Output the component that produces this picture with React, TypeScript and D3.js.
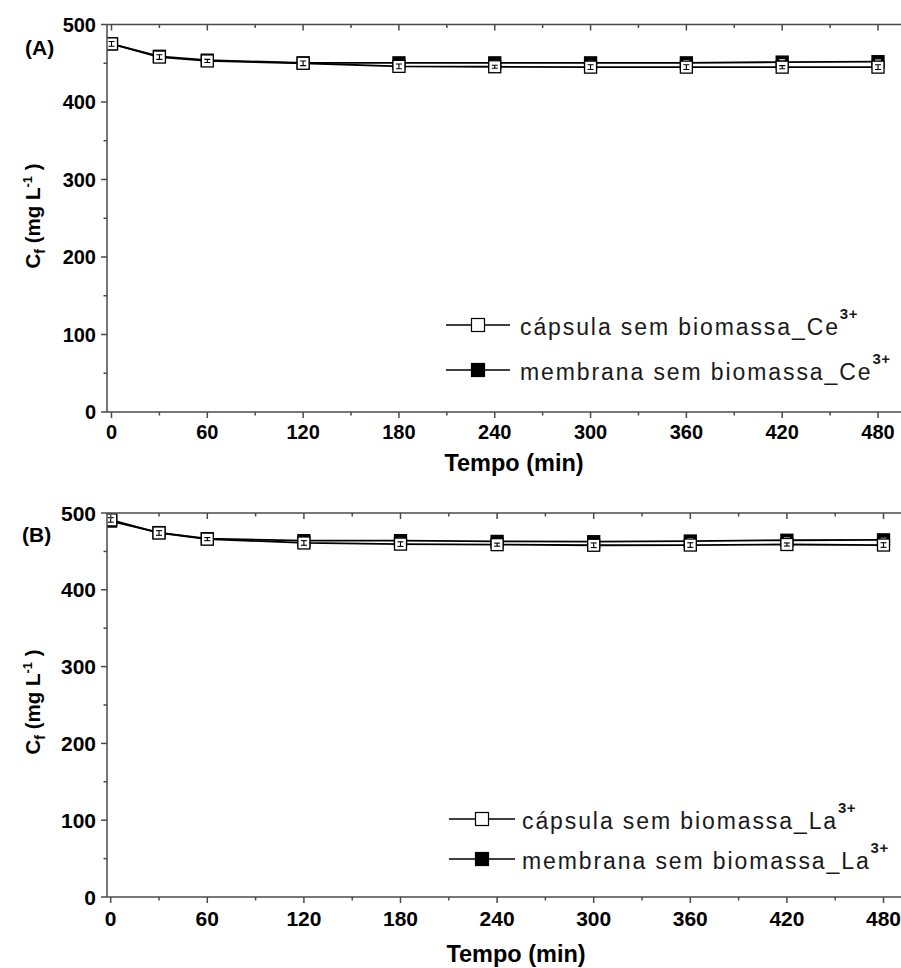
import React from "react";
import * as d3 from "d3";

const times = [0, 30, 60, 120, 180, 240, 300, 360, 420, 480];

const capsulaCe = [475, 458, 453, 450, 446, 445.5, 445, 445, 445, 445];
const capsulaCeErr = [3, 3, 2, 3, 3, 2, 3, 3, 2, 3];
const membranaCe = [475, 459, 454, 450.5, 450.5, 450.5, 450.5, 450.5, 451.5, 452];
const membranaCeErr = [3, 2, 3, 2, 3, 3, 2, 3, 3, 2];

const capsulaLa = [491, 474, 466, 461, 459.5, 458.8, 458, 458.3, 459, 458.3];
const capsulaLaErr = [3, 3, 2, 3, 3, 2, 3, 3, 2, 3];
const membranaLa = [489.5, 474.5, 466.5, 464, 464, 463, 462.6, 463.5, 464.5, 465];
const membranaLaErr = [3, 2, 3, 2, 3, 3, 2, 3, 3, 2];

const xMajorTicks = [0, 60, 120, 180, 240, 300, 360, 420, 480];
const xMinorTicks = [30, 90, 150, 210, 270, 330, 390, 450];
const yMajorTicks = [0, 100, 200, 300, 400, 500];
const yMinorTicks = [50, 150, 250, 350, 450];

const legendCe = ["cápsula sem biomassa_Ce", "membrana sem biomassa_Ce"];
const legendLa = ["cápsula sem biomassa_La", "membrana sem biomassa_La"];
const ionCharge = "3+";
const xTitle = "Tempo (min)";

const FONT = "'Liberation Sans', Arial, Helvetica, sans-serif";
const AXIS = "#4a4a4a";

type PanelProps = {
  id: string;
  label: string;
  xRange: [number, number];
  yRange: [number, number];
  left: number;
  right: number;
  tickFont: number;
  tickLabelBaseline: number;
  titleBaseline: number;
  titleX: number;
  yTitleCenter: number;
  labelPos: [number, number];
  caps: number[];
  capsErr: number[];
  mems: number[];
  memsErr: number[];
  legend: string[];
  legendLineY: [number, number];
  legendLineX: [number, number];
  legendTextX: number;
};

function Series({ x, y, values, errs, filled }: any) {
  const line = d3
    .line<number>()
    .x((_, i) => x(times[i]))
    .y((d) => y(d));
  const s = 12;
  return (
    <g>
      <path d={line(values) || ""} fill="none" stroke="#000" strokeWidth={1.8} />
      {values.map((v: number, i: number) => (
        <rect
          key={"m" + i}
          x={x(times[i]) - s / 2}
          y={y(v) - s / 2}
          width={s}
          height={s}
          fill={filled ? "#000" : "#fff"}
          stroke="#000"
          strokeWidth={1.3}
        />
      ))}
      {values.map((v: number, i: number) => {
        const cx = x(times[i]);
        const y1 = y(v - errs[i]);
        const y2 = y(v + errs[i]);
        return (
          <g key={"e" + i} stroke={filled ? "#fff" : "#000"} strokeWidth={1.1}>
            <line x1={cx} x2={cx} y1={y1} y2={y2} />
            <line x1={cx - 3} x2={cx + 3} y1={y1} y2={y1} />
            <line x1={cx - 3} x2={cx + 3} y1={y2} y2={y2} />
          </g>
        );
      })}
    </g>
  );
}

function Panel(p: PanelProps) {
  const x = d3.scaleLinear().domain([0, 480]).range(p.xRange);
  const y = d3.scaleLinear().domain([0, 500]).range(p.yRange);
  const top = y(500);
  const bottom = y(0);
  const clipId = "clip-" + p.id;
  return (
    <g fontFamily={FONT}>
      <defs>
        <clipPath id={clipId}>
          <rect x={p.left} y={top - 20} width={p.right - p.left} height={bottom - top + 20} />
        </clipPath>
      </defs>
      <g clipPath={`url(#${clipId})`}>
        <Series x={x} y={y} values={p.mems} errs={p.memsErr} filled={true} />
        <Series x={x} y={y} values={p.caps} errs={p.capsErr} filled={false} />
      </g>
      <g stroke={AXIS} strokeWidth={1.5} fill="none">
        <line x1={p.left} x2={p.right} y1={bottom} y2={bottom} />
        <line x1={p.left} x2={p.right} y1={top} y2={top} />
        <line x1={p.left} x2={p.left} y1={top} y2={bottom} />
        {xMajorTicks.map((t) => (
          <g key={"xM" + t}>
            <line x1={x(t)} x2={x(t)} y1={bottom} y2={bottom + 6} />
            <line x1={x(t)} x2={x(t)} y1={top} y2={top + 6} />
          </g>
        ))}
        {xMinorTicks.map((t) => (
          <g key={"xm" + t}>
            <line x1={x(t)} x2={x(t)} y1={bottom} y2={bottom + 3.5} />
            <line x1={x(t)} x2={x(t)} y1={top} y2={top + 3.5} />
          </g>
        ))}
        {yMajorTicks.map((t) => (
          <line key={"yM" + t} x1={p.left - 6} x2={p.left} y1={y(t)} y2={y(t)} />
        ))}
        {yMinorTicks.map((t) => (
          <line key={"ym" + t} x1={p.left - 3.5} x2={p.left} y1={y(t)} y2={y(t)} />
        ))}
      </g>
      <g fontWeight="bold" fontSize={p.tickFont} fill="#000">
        {xMajorTicks.map((t) => (
          <text key={"xl" + t} x={x(t)} y={p.tickLabelBaseline} textAnchor="middle">
            {t}
          </text>
        ))}
        {yMajorTicks.map((t) => (
          <text key={"yl" + t} x={p.left - 11} y={y(t)} dy="0.36em" textAnchor="end">
            {t}
          </text>
        ))}
      </g>
      <text x={p.titleX} y={p.titleBaseline} textAnchor="middle" fontWeight="bold" fontSize={23.5}>
        {xTitle}
      </text>
      <text
        transform={`translate(40, ${p.yTitleCenter}) rotate(-90)`}
        textAnchor="middle"
        fontWeight="bold"
        fontSize={20.5}
      >
        <tspan>C</tspan>
        <tspan fontSize={14} dy={5}>f</tspan>
        <tspan dy={-5}> (mg L</tspan>
        <tspan fontSize={13} dy={-8}>-1</tspan>
        <tspan dy={8}> )</tspan>
      </text>
      <text x={p.labelPos[0]} y={p.labelPos[1]} fontWeight="bold" fontSize={21}>
        {p.label}
      </text>
      {p.legend.map((name, i) => {
        const ly = p.legendLineY[i];
        const cx = (p.legendLineX[0] + p.legendLineX[1]) / 2;
        return (
          <g key={"lg" + i}>
            <line x1={p.legendLineX[0]} x2={p.legendLineX[1]} y1={ly} y2={ly} stroke="#000" strokeWidth={1.4} />
            <rect
              x={cx - 6.5}
              y={ly - 6.5}
              width={13}
              height={13}
              fill={i === 1 ? "#000" : "#fff"}
              stroke="#000"
              strokeWidth={1.2}
            />
            <text x={p.legendTextX} y={ly + 9.5} fontSize={23} letterSpacing={1.9} fill="#1a1a1a">
              <tspan>{name}</tspan>
              <tspan fontSize={15} fontWeight="bold" dy={-16} letterSpacing={0.5}>
                {ionCharge}
              </tspan>
            </text>
          </g>
        );
      })}
    </g>
  );
}

export default function App() {
  return (
    <div style={{ position: "absolute", left: 0, top: 0 }}>
      <svg width={901} height={968} style={{ display: "block", background: "#fff" }}>
        <rect width={901} height={968} fill="#fff" />
        <Panel
          id="A"
          label="(A)"
          xRange={[111.5, 878]}
          yRange={[412, 24.5]}
          left={107}
          right={901}
          tickFont={20}
          tickLabelBaseline={439}
          titleBaseline={471}
          titleX={514}
          yTitleCenter={216}
          labelPos={[25, 55]}
          caps={capsulaCe}
          capsErr={capsulaCeErr}
          mems={membranaCe}
          memsErr={membranaCeErr}
          legend={legendCe}
          legendLineY={[325, 370]}
          legendLineX={[446, 510]}
          legendTextX={520}
        />
        <Panel
          id="B"
          label="(B)"
          xRange={[110.7, 883.5]}
          yRange={[897, 513]}
          left={107}
          right={901}
          tickFont={21}
          tickLabelBaseline={926}
          titleBaseline={962}
          titleX={516}
          yTitleCenter={702}
          labelPos={[22, 542]}
          caps={capsulaLa}
          capsErr={capsulaLaErr}
          mems={membranaLa}
          memsErr={membranaLaErr}
          legend={legendLa}
          legendLineY={[819, 859]}
          legendLineX={[449, 515]}
          legendTextX={522}
        />
      </svg>
    </div>
  );
}
